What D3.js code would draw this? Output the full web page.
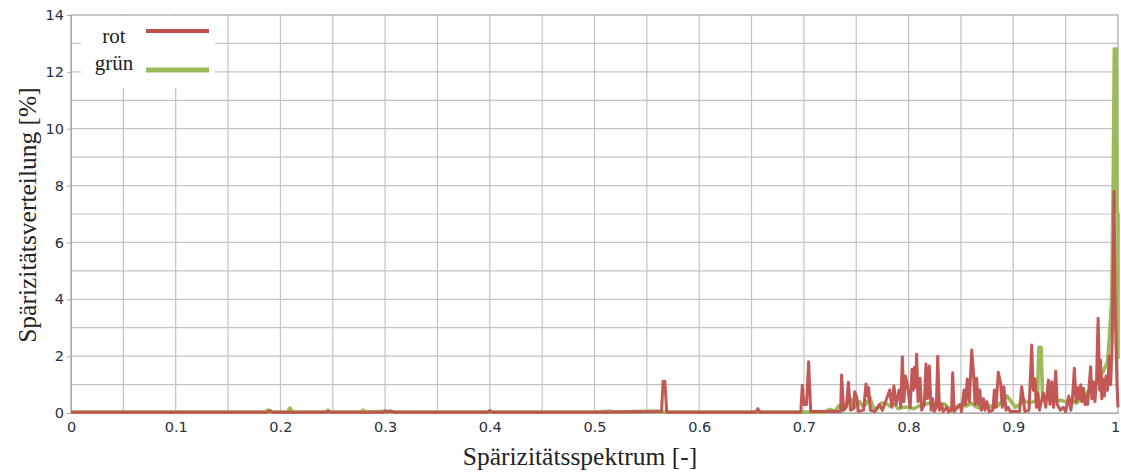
<!DOCTYPE html>
<html>
<head>
<meta charset="utf-8">
<script src="https://cdn.jsdelivr.net/npm/d3@7"></script>
<style>
  body { margin: 0; background: #fff; }
  .tick text { font-family: "DejaVu Sans", sans-serif; font-size: 14.5px; fill: #283044; }
  .axisTitle { font-family: "Liberation Serif", serif; font-size: 25.5px; fill: #222; }
  .legendText { font-family: "Liberation Serif", serif; font-size: 21px; fill: #222; }
</style>
</head>
<body>
<script>
// chart values
var xTicks = [0, 0.1, 0.2, 0.3, 0.4, 0.5, 0.6, 0.7, 0.8, 0.9, 1];
var yTicks = [0, 2, 4, 6, 8, 10, 12, 14];
var seriesNames = ["rot", "grün"];

var rotX = [0, 0.188, 0.19, 0.192, 0.244, 0.246, 0.248, 0.298, 0.3, 0.302, 0.305, 0.308, 0.398, 0.4, 0.402,
  0.5, 0.564, 0.5655, 0.5672, 0.569, 0.6, 0.6545, 0.656, 0.658, 0.697, 0.6985, 0.7, 0.7025, 0.7045, 0.7065,
  0.72, 0.735, 0.736, 0.738, 0.7405, 0.7425, 0.7445, 0.7475, 0.7485, 0.7505, 0.752, 0.757, 0.7593, 0.7605,
  0.7618, 0.7635, 0.768, 0.772, 0.775, 0.779, 0.782, 0.784, 0.786, 0.788, 0.791, 0.7925, 0.794, 0.7955,
  0.797, 0.799, 0.8015, 0.8033, 0.8045, 0.8055, 0.8065, 0.8077, 0.809, 0.8109, 0.8125, 0.815, 0.8166, 0.818,
  0.8198, 0.8215, 0.823, 0.8245, 0.8265, 0.8278, 0.8295, 0.8316, 0.833, 0.8364, 0.838, 0.841, 0.8421,
  0.8435, 0.849, 0.8505, 0.853, 0.8545, 0.856, 0.858, 0.8603, 0.862, 0.8635, 0.865, 0.8665, 0.868, 0.8695,
  0.8714, 0.873, 0.8746, 0.877, 0.8805, 0.8819, 0.8835, 0.8857, 0.888, 0.8895, 0.891, 0.893, 0.8953, 0.897,
  0.906, 0.908, 0.9096, 0.911, 0.915, 0.9176, 0.919, 0.9207, 0.922, 0.9235, 0.925, 0.9287, 0.931, 0.9335,
  0.935, 0.9367, 0.9385, 0.9405, 0.942, 0.945, 0.9478, 0.95, 0.953, 0.955, 0.9565, 0.9583, 0.96, 0.9621, 0.963, 0.9644,
  0.9655, 0.967, 0.9685, 0.9694, 0.971, 0.9739, 0.975, 0.9764, 0.978, 0.9795, 0.981, 0.9825, 0.9834, 0.9845,
  0.9854, 0.987, 0.9885, 0.99, 0.9917, 0.993, 0.9945, 0.9962, 0.9975, 0.999, 1];
var rotY = [0.03, 0.03, 0.09, 0.03, 0.03, 0.06, 0.03, 0.03, 0.08, 0.03, 0.07, 0.03, 0.03, 0.09, 0.03,
  0.03, 0.05, 1.12, 1.12, 0.03, 0.03, 0.03, 0.15, 0.03, 0.03, 0.98, 0.3, 0.3, 1.8, 0.05,
  0.05, 0.05, 1.34, 0.1, 0.2, 1.08, 0.1, 0.15, 0.75, 0.55, 0.05, 0.1, 1.02, 0.6,
  0.9, 0.1, 0.05, 0.3, 0.1, 0.5, 0.81, 0.2, 0.96, 0.3, 0.81, 0.2, 1.98, 0.4,
  1.3, 0.95, 0.2, 1.54, 0.8, 1.6, 0.9, 2.07, 0.4, 1.22, 0.1, 0.3, 1.72, 0.5,
  1.65, 0.1, 0.5, 0.05, 0.2, 2.0, 0.1, 0.3, 0.05, 0.2, 0.05, 0.1, 1.42,
  0.05, 0.3, 0.05, 0.81, 0.3, 1.2, 0.4, 2.22, 1.4, 0.3, 1.22, 0.3, 0.81, 0.1,
  0.5, 0.1, 0.4, 0.05, 0.1, 0.81, 0.2, 1.43, 1.0, 0.2, 0.92, 0.1, 0.2, 0.05,
  0.05, 0.92, 0.5, 0.05, 0.1, 2.39, 0.8, 1.2, 0.2, 0.7, 0.1, 0.7, 0.2, 1.16,
  0.3, 1.1, 0.2, 1.48, 0.3, 0.1, 0.2, 0.05, 0.6, 0.1, 0.5, 1.57, 0.4, 0.9, 0.5, 0.99,
  0.4, 0.87, 0.3, 0.6, 0.3, 1.63, 0.5, 1.1, 0.4, 1.2, 3.33, 0.8, 1.86, 0.5,
  1.2, 0.6, 1.3, 0.8, 2.0, 1.0, 2.5, 7.8, 3.4, 1.0, 0.2];

var gruenX = [0, 0.186, 0.188, 0.19, 0.207, 0.209, 0.212, 0.244, 0.2455, 0.248, 0.277, 0.279, 0.282,
  0.3, 0.31, 0.5, 0.515, 0.52, 0.56, 0.563, 0.7, 0.72, 0.725, 0.73, 0.733, 0.737, 0.741, 0.745, 0.748,
  0.753, 0.756, 0.759, 0.763, 0.766, 0.77, 0.774, 0.778, 0.782, 0.787, 0.79, 0.795, 0.8, 0.805, 0.81,
  0.815, 0.82, 0.825, 0.83, 0.835, 0.84, 0.845, 0.85, 0.855, 0.86, 0.865, 0.87, 0.875, 0.88, 0.885,
  0.89, 0.894, 0.898, 0.902, 0.906, 0.91, 0.915, 0.92, 0.923, 0.9245, 0.9265, 0.928, 0.932, 0.935,
  0.94, 0.945, 0.95, 0.955, 0.96, 0.965, 0.97, 0.975, 0.98, 0.985, 0.99, 0.992, 0.994, 0.9955, 0.9965,
  0.9985, 0.999, 1, 1];
var gruenY = [0.03, 0.03, 0.1, 0.03, 0.03, 0.17, 0.03, 0.03, 0.1, 0.03, 0.03, 0.1, 0.03,
  0.06, 0.03, 0.03, 0.06, 0.03, 0.07, 0.03, 0.03, 0.03, 0.13, 0.05, 0.25, 0.1, 0.3, 0.5, 0.2,
  0.4, 0.25, 0.3, 0.55, 0.2, 0.15, 0.35, 0.35, 0.25, 0.3, 0.15, 0.2, 0.2, 0.15, 0.25,
  0.3, 0.35, 0.3, 0.35, 0.3, 0.1, 0.2, 0.3, 0.25, 0.35, 0.2, 0.15, 0.3, 0.2, 0.25,
  0.45, 0.6, 0.4, 0.2, 0.3, 0.45, 0.35, 0.4, 0.5, 2.31, 2.31, 0.5, 0.55, 0.45,
  0.4, 0.45, 0.4, 0.45, 0.35, 0.5, 0.7, 0.9, 1.1, 1.4, 1.8, 2.8, 4.0, 8.3, 12.8,
  12.8, 7.1, 7.0, 1.9];

var svgWidth = 1121;
var svgHeight = 473;
var margin = { top: 15, right: 3, bottom: 60, left: 71 };
var width = svgWidth - margin.left - margin.right;
var height = svgHeight - margin.top - margin.bottom;

var svg = d3.select("body").append("svg")
  .attr("width", svgWidth)
  .attr("height", svgHeight);

var g = svg.append("g")
  .attr("transform", `translate(${margin.left}, ${margin.top})`);

var xScale = d3.scaleLinear().domain([0, 1]).range([0, width]);
var yScale = d3.scaleLinear().domain([0, 14]).range([height, 0]);

// grid: every 0.05 on x, every 1 on y
g.append("g")
  .selectAll("line")
  .data(d3.range(1, 20).map(i => i / 20))
  .enter().append("line")
  .attr("x1", d => xScale(d)).attr("x2", d => xScale(d))
  .attr("y1", 0).attr("y2", height)
  .attr("stroke", "#c3c3c3").attr("stroke-width", 1.2);

g.append("g")
  .selectAll("line")
  .data(d3.range(1, 14))
  .enter().append("line")
  .attr("x1", 0).attr("x2", width)
  .attr("y1", d => yScale(d)).attr("y2", d => yScale(d))
  .attr("stroke", "#c3c3c3").attr("stroke-width", 1.2);

// frame
g.append("rect")
  .attr("width", width).attr("height", height)
  .attr("fill", "none").attr("stroke", "#a8a8a8").attr("stroke-width", 1.2);

// axes
var bottomAxis = d3.axisBottom(xScale).tickValues(xTicks).tickSize(0).tickPadding(9)
  .tickFormat(d => String(d));
var leftAxis = d3.axisLeft(yScale).tickValues(yTicks).tickSize(4).tickPadding(3)
  .tickFormat(d => String(d));

var xAxisG = g.append("g").attr("transform", `translate(0, ${height})`).call(bottomAxis);
var yAxisG = g.append("g").call(leftAxis);
[xAxisG, yAxisG].forEach(a => {
  a.select(".domain").attr("stroke", "#a8a8a8");
  a.selectAll(".tick line").attr("stroke", "#a8a8a8");
});
// last x label sits at the right edge
xAxisG.selectAll(".tick text").filter(d => d === 1).attr("dx", -3);

// series
var line = d3.line()
  .x(d => xScale(d[0]))
  .y(d => yScale(d[1]));

var gruenData = gruenX.map((x, i) => [x, gruenY[i]]);
var rotData = rotX.map((x, i) => [x, rotY[i]]);

g.append("path")
  .datum(gruenData)
  .attr("d", line)
  .attr("fill", "none")
  .attr("stroke", "#9bbb59")
  .attr("stroke-width", 3.6)
  .attr("stroke-linejoin", "round");

g.append("path")
  .datum(rotData)
  .attr("d", line)
  .attr("fill", "none")
  .attr("stroke", "#c0504d")
  .attr("stroke-width", 3)
  .attr("stroke-linejoin", "round")
  .attr("stroke-opacity", 0.95);

// legend
var legend = svg.append("g");
legend.append("rect")
  .attr("x", 81).attr("y", 16).attr("width", 134).attr("height", 72)
  .attr("fill", "#fff");

var legendColors = ["#c0504d", "#9bbb59"];
var legendWidths = [4, 5];
var legendRows = [{ ty: 43, ly: 31, tx: 114 }, { ty: 70, ly: 70, tx: 114 }];

seriesNames.forEach(function (name, i) {
  legend.append("text")
    .attr("class", "legendText")
    .attr("x", legendRows[i].tx)
    .attr("y", legendRows[i].ty)
    .attr("text-anchor", "middle")
    .text(name);
  legend.append("line")
    .attr("x1", 146).attr("x2", 209)
    .attr("y1", legendRows[i].ly).attr("y2", legendRows[i].ly)
    .attr("stroke", legendColors[i])
    .attr("stroke-width", legendWidths[i]);
});

// axis titles
svg.append("text")
  .attr("class", "axisTitle")
  .attr("x", 580)
  .attr("y", 465)
  .attr("text-anchor", "middle")
  .text("Spärizitätsspektrum [-]");

svg.append("text")
  .attr("class", "axisTitle")
  .attr("transform", "rotate(-90)")
  .attr("x", -215)
  .attr("y", 36)
  .attr("text-anchor", "middle")
  .text("Spärizitätsverteilung [%]");
</script>
</body>
</html>
